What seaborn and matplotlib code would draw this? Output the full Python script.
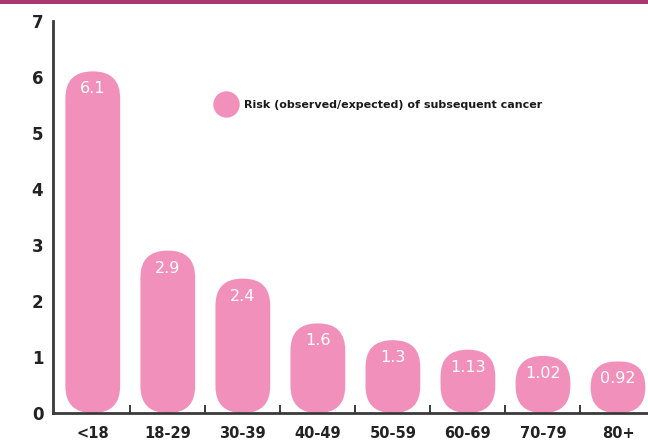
import matplotlib
matplotlib.use("Agg")
import matplotlib.pyplot as plt
from matplotlib.patches import FancyBboxPatch, Rectangle
from matplotlib.lines import Line2D
from matplotlib.ticker import FixedLocator
import seaborn as sns
import pandas as pd

# Age groups and relative risk of subsequent cancer
age_groups = ["<18", "18-29", "30-39", "40-49", "50-59", "60-69", "70-79", "80+"]
risk = [6.1, 2.9, 2.4, 1.6, 1.3, 1.13, 1.02, 0.92]
risk_labels = ["6.1", "2.9", "2.4", "1.6", "1.3", "1.13", "1.02", "0.92"]
legend_label = "Risk (observed/expected) of subsequent cancer"

PINK = "#F290BC"
AXIS = "#3a3a3a"
FONT = ["Liberation Sans Narrow", "DejaVu Sans"]

sns.set_theme(style="white")
plt.rcParams["font.family"] = FONT

df = pd.DataFrame({"age": age_groups, "risk": risk})

fig = plt.figure(figsize=(6.48, 4.44), dpi=100)
ax = fig.add_axes([53 / 648, 31 / 444, 1 - 53 / 648, (413 - 21) / 444])

sns.barplot(data=df, x="age", y="risk", color=PINK, width=0.73,
            saturation=1, ax=ax, errorbar=None)

ax.set_xlim(-0.53, 7.4)
ax.set_ylim(0, 7)

# value labels inside the top of each bar
ax.bar_label(ax.containers[0], labels=risk_labels, padding=-18,
             color="white", fontsize=11.5, family=FONT)

# replace the square bars with rounded ones
fig.canvas.draw()
p0 = ax.transData.transform((0, 0))
p1 = ax.transData.transform((1, 1))
aspect = (p1[0] - p0[0]) / (p1[1] - p0[1])
radius_px = 27
r_x = radius_px / (p1[0] - p0[0])
for bar in list(ax.patches):
    x, y = bar.get_x(), bar.get_y()
    w, h = bar.get_width(), bar.get_height()
    r = min(r_x, w / 2, h / (2 * aspect))
    rounded = FancyBboxPatch((x, y), w, h,
                             boxstyle=f"round,pad=0,rounding_size={r}",
                             mutation_aspect=aspect,
                             facecolor=PINK, edgecolor="none", zorder=2)
    bar.set_visible(False)
    ax.add_patch(rounded)

# axes styling
for side in ["top", "right"]:
    ax.spines[side].set_visible(False)
for side in ["left", "bottom"]:
    ax.spines[side].set_color(AXIS)
    ax.spines[side].set_linewidth(2)

ax.set_yticks(range(0, 8))
ax.tick_params(axis="y", direction="in", length=12, width=1.6, color=AXIS,
               pad=7, labelsize=12, labelcolor="#222222")
ax.xaxis.set_minor_locator(FixedLocator([i + 0.5 for i in range(7)]))
ax.tick_params(axis="x", which="major", length=0, pad=9,
               labelsize=10.5, labelcolor="#222222")
ax.tick_params(axis="x", which="minor", direction="in", length=6,
               width=1.4, color=AXIS, bottom=True)
for lab in ax.get_xticklabels() + ax.get_yticklabels():
    lab.set_fontweight("bold")
ax.set_xlabel("")
ax.set_ylabel("")

# legend
handle = Line2D([], [], marker="o", linestyle="", markersize=19,
                markerfacecolor=PINK, markeredgecolor="none")
leg = ax.legend([handle], [legend_label], loc="center left",
                bbox_to_anchor=(0.276, 0.786), frameon=False,
                borderpad=0, borderaxespad=0, handlelength=1.6,
                handletextpad=0.8,
                prop={"family": FONT, "weight": "bold", "size": 8})
for t in leg.get_texts():
    t.set_color("#1a1a1a")

# header band
fig.patches.append(Rectangle((0, 1 - 4 / 444), 1, 4 / 444,
                             transform=fig.transFigure, facecolor="#A8386F",
                             edgecolor="none"))

fig.savefig("out.png", dpi=100)
